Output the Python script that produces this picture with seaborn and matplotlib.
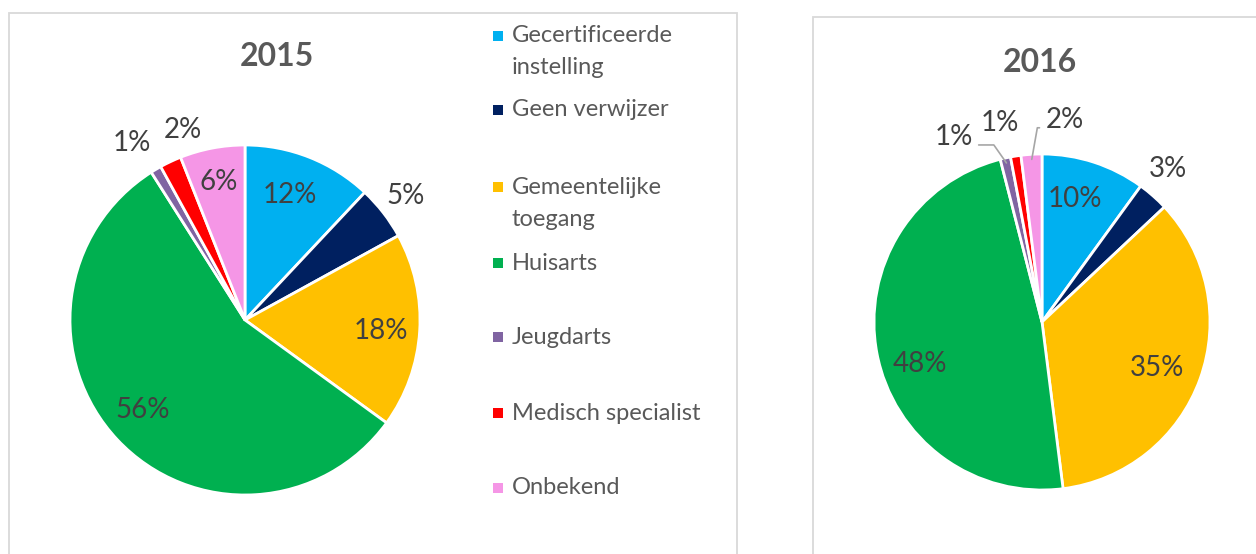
import matplotlib
matplotlib.use("Agg")
import numpy as np
import matplotlib.pyplot as plt
import seaborn as sns
from matplotlib.patches import Rectangle

# data
categories = ["Gecertificeerde\ninstelling", "Geen verwijzer", "Gemeentelijke\ntoegang",
              "Huisarts", "Jeugdarts", "Medisch specialist", "Onbekend"]
share_2015 = [12, 5, 18, 56, 1, 2, 6]
share_2016 = [10, 3, 35, 48, 1, 1, 2]
colors = ["#00b0f0", "#002060", "#ffc000", "#00b050", "#8064a2", "#ff0000", "#f596e6"]

# label placement per wedge: (radius, angle nudge in degrees, leader line)
labels_2015 = [(0.76, -2, False), (1.16, 0, False), (0.78, 1, False), (0.78, 2, False),
               (1.20, -2, False), (1.14, 7, False), (0.80, 0, False)]
labels_2016 = [(0.76, -3, False), (1.18, -2, False), (0.74, 2, False), (0.77, -8, False),
               (1.22, -13, True), (1.21, -3, False), (1.21, 10, True)]

sns.set_theme(style="white")
plt.rcParams["font.family"] = ["Lato", "DejaVu Sans"]

W, H = 1256, 554
fig = plt.figure(figsize=(W / 100, H / 100), dpi=100)
fig.patch.set_facecolor("white")

grey_text = "#595959"
dark_text = "#404040"


def fx(x):
    return x / W


def fy(y):
    return 1 - y / H


# panel borders
for x0, y0, x1 in [(9, 13, 737), (813, 17, 1262)]:
    fig.add_artist(Rectangle((fx(x0), fy(560)), fx(x1 - x0), (560 - y0) / H,
                             transform=fig.transFigure, fill=False,
                             edgecolor="#d9d9d9", linewidth=1.3, clip_on=False))


def draw_pie(values, cx, cy, r, title, tx, ty, label_cfg):
    ax = fig.add_axes([fx(cx - r), (H - cy - r) / H, 2 * r / W, 2 * r / H])
    wedges, _ = ax.pie(values, colors=colors, startangle=90, counterclock=False,
                       wedgeprops=dict(edgecolor="white", linewidth=2.0))
    ax.set_xlim(-1, 1)
    ax.set_ylim(-1, 1)
    ax.set_aspect("equal")
    ax.axis("off")
    for w, v, (rad, nudge, leader) in zip(wedges, values, label_cfg):
        mid = np.deg2rad((w.theta1 + w.theta2) / 2 - nudge)
        pos = (rad * np.cos(mid), rad * np.sin(mid))
        txt = f"{v}%"
        if leader:
            mid_w = np.deg2rad((w.theta1 + w.theta2) / 2)
            edge = (0.97 * np.cos(mid_w), 0.97 * np.sin(mid_w))
            left = pos[0] < edge[0]
            ax.annotate(txt, xy=edge, xytext=pos, ha="center", va="center",
                        fontsize=20, color=dark_text,
                        arrowprops=dict(arrowstyle="-", color="#a6a6a6", lw=1.2,
                                        shrinkA=2, shrinkB=0,
                                        relpos=(1, 0.2) if left else (0, 0.2),
                                        connectionstyle="angle,angleA=0,angleB=%d"
                                        % (125 if left else 80)))
        else:
            ax.text(pos[0], pos[1], txt, ha="center", va="center",
                    fontsize=20, color=dark_text)
    fig.text(fx(tx), fy(ty), title, ha="center", va="center",
             fontsize=23, fontweight="bold", color=grey_text)


draw_pie(share_2015, 245, 320, 175, "2015", 277, 57, labels_2015)
draw_pie(share_2016, 1042, 322, 168, "2016", 1040, 62, labels_2016)

# legend drawn beside the 2015 pie
row_y = [36, 110, 187, 263, 337, 413, 488]
for cat, col, y in zip(categories, colors, row_y):
    fig.add_artist(Rectangle((fx(493), fy(y + 5)), fx(10), 10 / H,
                             transform=fig.transFigure, facecolor=col,
                             edgecolor="none"))
    for i, line in enumerate(cat.split("\n")):
        fig.text(fx(512), fy(y + 32 * i), line, ha="left", va="center",
                 fontsize=17, color=grey_text)

fig.savefig("out.png", dpi=100, facecolor="white")
